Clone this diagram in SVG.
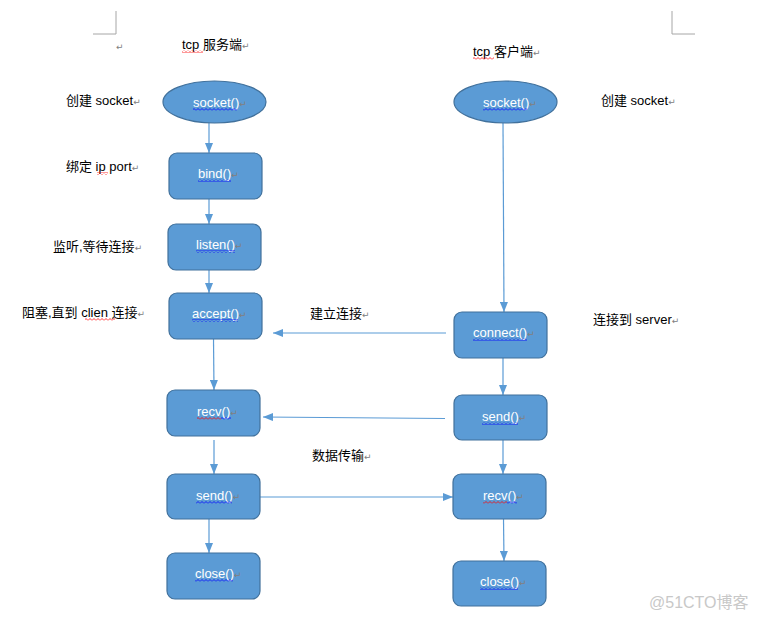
<svg xmlns="http://www.w3.org/2000/svg" width="757" height="620" viewBox="0 0 757 620">
<style>
.node{fill:#5B9BD5;stroke:#41719C;stroke-width:1.2}
.nt{font-family:"Liberation Sans","Noto Sans CJK SC",sans-serif;font-size:13px;fill:#FFFFFF}
.lbl{font-family:"Liberation Sans","Noto Sans CJK SC",sans-serif;font-size:13px;fill:#000000}
.pm{font-family:"DejaVu Sans",sans-serif;font-size:9px;fill:#808080}
.conn{stroke:#5B9BD5;stroke-width:1.2;fill:none;marker-end:url(#ah)}
.corner{stroke:#A6A6A6;stroke-width:1;fill:none}
.wm{font-family:"Liberation Sans","Noto Sans CJK SC",sans-serif;font-size:16px;fill:#C8C8C8}
</style>
<defs>
<marker id="ah" markerWidth="10" markerHeight="8" refX="10" refY="4" orient="auto" markerUnits="userSpaceOnUse">
<path d="M0,0 L10,4 L0,8 z" fill="#5B9BD5"/>
</marker>
<pattern id="wb" width="4" height="3" patternUnits="userSpaceOnUse"><path d="M0,2.5 L2,0.5 L4,2.5" stroke="#0000FF" stroke-width="0.8" fill="none"/></pattern>
<pattern id="wr" width="4" height="3" patternUnits="userSpaceOnUse"><path d="M0,2.5 L2,0.5 L4,2.5" stroke="#FF0000" stroke-width="0.8" fill="none"/></pattern>
</defs>

<g id="page-corners">
<path class="corner" d="M116,11 L116,34 L93,34"/>
<path class="corner" d="M672,11 L672,34 L695,34"/>
<text class="pm" x="116" y="50">↵</text>
</g>

<g id="titles">
<text class="lbl" x="182" y="49">tcp 服务端<tspan class="pm">↵</tspan></text>
<rect x="182" y="50" width="21" height="3" fill="url(#wr)"/>
<text class="lbl" x="473" y="56">tcp 客户端<tspan class="pm">↵</tspan></text>
<rect x="473" y="57" width="21" height="3" fill="url(#wr)"/>
</g>

<g id="side-labels">
<text class="lbl" x="66" y="105">创建 socket<tspan class="pm">↵</tspan></text>
<text class="lbl" x="66" y="171">绑定 ip port<tspan class="pm">↵</tspan></text>
<rect x="97" y="172" width="11" height="3" fill="url(#wr)"/>
<text class="lbl" x="53" y="251">监听,等待连接<tspan class="pm">↵</tspan></text>
<text class="lbl" x="22" y="317">阻塞,直到 clien 连接<tspan class="pm">↵</tspan></text>
<rect x="85" y="318" width="30" height="3" fill="url(#wr)"/>
<text class="lbl" x="310" y="318">建立连接<tspan class="pm">↵</tspan></text>
<text class="lbl" x="601" y="105">创建 socket<tspan class="pm">↵</tspan></text>
<text class="lbl" x="593" y="324">连接到 server<tspan class="pm">↵</tspan></text>
<text class="lbl" x="312" y="460">数据传输<tspan class="pm">↵</tspan></text>
</g>

<g id="connectors">
<line class="conn" x1="209" y1="123" x2="209" y2="153"/>
<line class="conn" x1="209" y1="199" x2="209" y2="224"/>
<line class="conn" x1="209" y1="270" x2="209" y2="293"/>
<line class="conn" x1="213.5" y1="339" x2="214" y2="390"/>
<line class="conn" x1="214" y1="440" x2="214" y2="474"/>
<line class="conn" x1="209" y1="519" x2="209" y2="553"/>
<line class="conn" x1="503" y1="123" x2="504" y2="312"/>
<line class="conn" x1="503" y1="358" x2="503" y2="395"/>
<line class="conn" x1="503" y1="440" x2="503" y2="474"/>
<line class="conn" x1="503.5" y1="519" x2="504" y2="561"/>
<line class="conn" x1="446" y1="333" x2="273" y2="333"/>
<line class="conn" x1="445" y1="418.5" x2="263" y2="417"/>
<line class="conn" x1="260" y1="497" x2="453" y2="497"/>
</g>

<g id="s-socket">
<ellipse class="node" cx="214.5" cy="102" rx="51.5" ry="21"/>
<text class="nt" x="193" y="107">socket()<tspan class="pm">↵</tspan></text>
<rect x="193" y="108" width="44" height="3" fill="url(#wb)"/>
</g>
<g id="s-bind">
<rect class="node" x="169" y="153" width="93" height="46" rx="8"/>
<text class="nt" x="198" y="178">bind()<tspan class="pm">↵</tspan></text>
<rect x="198" y="179" width="33" height="3" fill="url(#wb)"/>
</g>
<g id="s-listen">
<rect class="node" x="168" y="224" width="93" height="46" rx="8"/>
<text class="nt" x="196" y="249">listen()<tspan class="pm">↵</tspan></text>
<rect x="196" y="250" width="39" height="3" fill="url(#wb)"/>
</g>
<g id="s-accept">
<rect class="node" x="169" y="293" width="93" height="46" rx="8"/>
<text class="nt" x="192" y="318">accept()<tspan class="pm">↵</tspan></text>
<rect x="192" y="319" width="46" height="3" fill="url(#wb)"/>
</g>
<g id="s-recv">
<rect class="node" x="167" y="390" width="93" height="46" rx="8"/>
<text class="nt" x="197" y="416">recv()<tspan class="pm">↵</tspan></text>
<rect x="197" y="417" width="24" height="3" fill="url(#wr)"/>
<rect x="221" y="417" width="10" height="3" fill="url(#wb)"/>
</g>
<g id="s-send">
<rect class="node" x="167" y="474" width="93" height="45" rx="8"/>
<text class="nt" x="196" y="500">send()<tspan class="pm">↵</tspan></text>
<rect x="196" y="501" width="36" height="3" fill="url(#wb)"/>
</g>
<g id="s-close">
<rect class="node" x="167" y="553" width="93" height="46" rx="8"/>
<text class="nt" x="195" y="578">close()<tspan class="pm">↵</tspan></text>
<rect x="195" y="579" width="38" height="3" fill="url(#wb)"/>
</g>

<g id="c-socket">
<ellipse class="node" cx="505.5" cy="102" rx="51.5" ry="21"/>
<text class="nt" x="483" y="107">socket()<tspan class="pm">↵</tspan></text>
<rect x="483" y="108" width="44" height="3" fill="url(#wb)"/>
</g>
<g id="c-connect">
<rect class="node" x="454" y="312" width="93" height="46" rx="8"/>
<text class="nt" x="473" y="337">connect()<tspan class="pm">↵</tspan></text>
<rect x="473" y="338" width="54" height="3" fill="url(#wb)"/>
</g>
<g id="c-send">
<rect class="node" x="454" y="395" width="93" height="45" rx="8"/>
<text class="nt" x="482" y="421">send()<tspan class="pm">↵</tspan></text>
<rect x="482" y="422" width="36" height="3" fill="url(#wb)"/>
</g>
<g id="c-recv">
<rect class="node" x="453" y="474" width="93" height="45" rx="8"/>
<text class="nt" x="483" y="500">recv()<tspan class="pm">↵</tspan></text>
<rect x="483" y="501" width="24" height="3" fill="url(#wr)"/>
<rect x="507" y="501" width="10" height="3" fill="url(#wb)"/>
</g>
<g id="c-close">
<rect class="node" x="453" y="561" width="93" height="45" rx="8"/>
<text class="nt" x="480" y="586">close()<tspan class="pm">↵</tspan></text>
<rect x="480" y="587" width="38" height="3" fill="url(#wb)"/>
</g>

<text class="wm" x="649" y="608">@51CTO博客</text>
</svg>
